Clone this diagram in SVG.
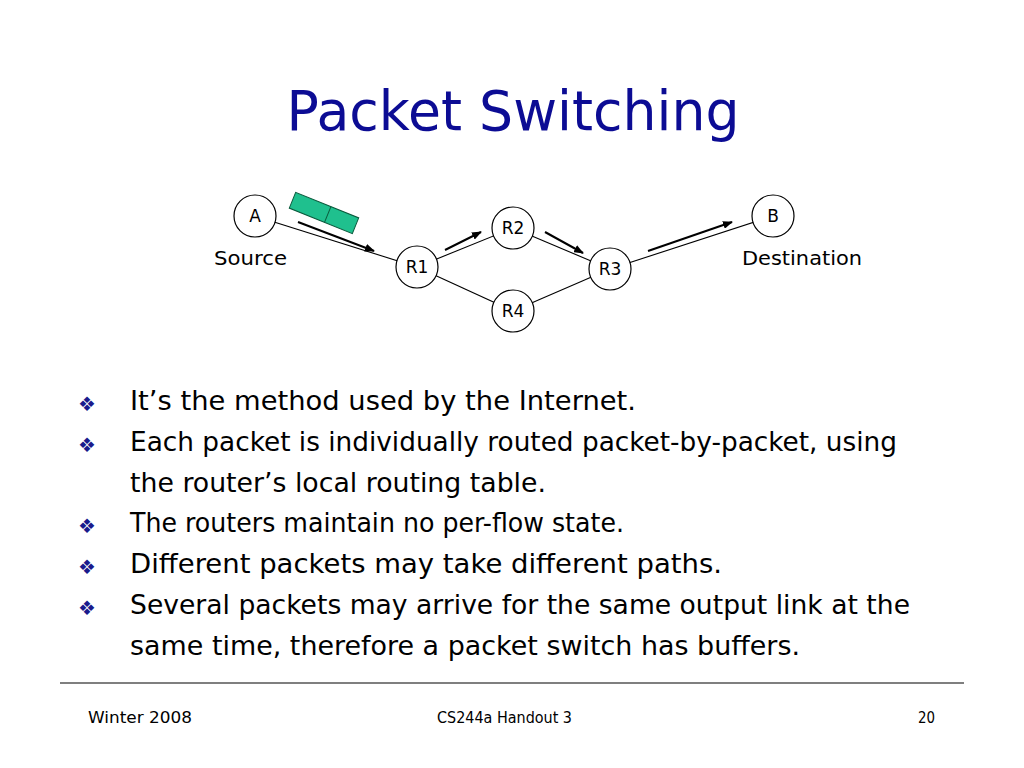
<svg xmlns="http://www.w3.org/2000/svg" width="1024" height="768" viewBox="0 0 1024 768">
<defs>
<marker id="ah" markerWidth="10" markerHeight="8" refX="9" refY="4" orient="auto" markerUnits="userSpaceOnUse">
<path d="M0,0 L10,4 L0,8 Z" fill="#000"/>
</marker>
<style>
.node circle{fill:#fff;stroke:#000;stroke-width:1.2}
.nl{font-family:"DejaVu Sans","Liberation Sans",sans-serif;font-size:17px;fill:#000;text-anchor:middle}
.link{stroke:#000;stroke-width:1.1;fill:none}
.arr{stroke:#000;stroke-width:2;fill:none;marker-end:url(#ah)}
.lbl{font-family:"DejaVu Sans","Liberation Sans",sans-serif;font-size:20px;fill:#000}
.body{font-family:"DejaVu Sans","Liberation Sans",sans-serif;font-size:27px;fill:#000}
.bul{font-family:"DejaVu Sans",sans-serif;font-size:20px;fill:#1a1a8c;text-anchor:middle}
.foot{font-family:"DejaVu Sans","Liberation Sans",sans-serif;font-size:16px;fill:#000}
</style>
</defs>
<rect width="1024" height="768" fill="#fff"/>
<text x="513" y="130" text-anchor="middle" font-family="DejaVu Sans, Liberation Sans, sans-serif" font-size="56" fill="#0c0c94" textLength="453" lengthAdjust="spacingAndGlyphs">Packet Switching</text>

<g id="connectors">
<line class="link" x1="255" y1="216" x2="417" y2="267"/>
<line class="link" x1="417" y1="267" x2="513" y2="228"/>
<line class="link" x1="513" y1="228" x2="610" y2="269"/>
<line class="link" x1="417" y1="267" x2="513" y2="311"/>
<line class="link" x1="513" y1="311" x2="610" y2="269"/>
<line class="link" x1="610" y1="269" x2="773" y2="216"/>
<line class="arr" x1="298" y1="222" x2="374" y2="251"/>
<line class="arr" x1="445" y1="250" x2="481" y2="232"/>
<line class="arr" x1="545" y1="232" x2="583" y2="253"/>
<line class="arr" x1="648" y1="251" x2="732" y2="222"/>
</g>

<g id="packet" transform="translate(324,213) rotate(22)">
<rect x="-34" y="-8.5" width="68" height="17" fill="#1fc08e" stroke="#0a5a3c" stroke-width="1"/>
<line x1="4" y1="-8.5" x2="4" y2="8.5" stroke="#0a5a3c" stroke-width="1"/>
</g>

<g id="A" class="node"><circle cx="255" cy="216" r="21"/><text class="nl" x="255" y="222">A</text></g>
<g id="B" class="node"><circle cx="773" cy="216" r="21"/><text class="nl" x="773" y="222">B</text></g>
<g id="R1" class="node"><circle cx="417" cy="267" r="21"/><text class="nl" x="417" y="273">R1</text></g>
<g id="R2" class="node"><circle cx="513" cy="228" r="21"/><text class="nl" x="513" y="234">R2</text></g>
<g id="R3" class="node"><circle cx="610" cy="269" r="21"/><text class="nl" x="610" y="275">R3</text></g>
<g id="R4" class="node"><circle cx="513" cy="311" r="21"/><text class="nl" x="513" y="317">R4</text></g>

<text class="lbl" x="214" y="265" textLength="73" lengthAdjust="spacingAndGlyphs">Source</text>
<text class="lbl" x="742" y="265" textLength="120" lengthAdjust="spacingAndGlyphs">Destination</text>

<g id="bullets">
<text class="bul" x="87" y="411">❖</text>
<text class="bul" x="87" y="452">❖</text>
<text class="bul" x="87" y="533">❖</text>
<text class="bul" x="87" y="574">❖</text>
<text class="bul" x="87" y="615">❖</text>
<text class="body" x="130" y="410" textLength="506" lengthAdjust="spacingAndGlyphs">It’s the method used by the Internet.</text>
<text class="body" x="130" y="451" textLength="767" lengthAdjust="spacingAndGlyphs">Each packet is individually routed packet-by-packet, using</text>
<text class="body" x="130" y="492" textLength="416" lengthAdjust="spacingAndGlyphs">the router’s local routing table.</text>
<text class="body" x="130" y="532" textLength="494" lengthAdjust="spacingAndGlyphs">The routers maintain no per-flow state.</text>
<text class="body" x="130" y="573" textLength="592" lengthAdjust="spacingAndGlyphs">Different packets may take different paths.</text>
<text class="body" x="130" y="614" textLength="780" lengthAdjust="spacingAndGlyphs">Several packets may arrive for the same output link at the</text>
<text class="body" x="130" y="655" textLength="670" lengthAdjust="spacingAndGlyphs">same time, therefore a packet switch has buffers.</text>
</g>

<line x1="60" y1="683" x2="964" y2="683" stroke="#000" stroke-width="1.2"/>
<text class="foot" x="88" y="723" textLength="104" lengthAdjust="spacingAndGlyphs">Winter 2008</text>
<text class="foot" x="437" y="723" textLength="135" lengthAdjust="spacingAndGlyphs">CS244a Handout 3</text>
<text class="foot" x="918" y="723" textLength="17" lengthAdjust="spacingAndGlyphs">20</text>
</svg>
